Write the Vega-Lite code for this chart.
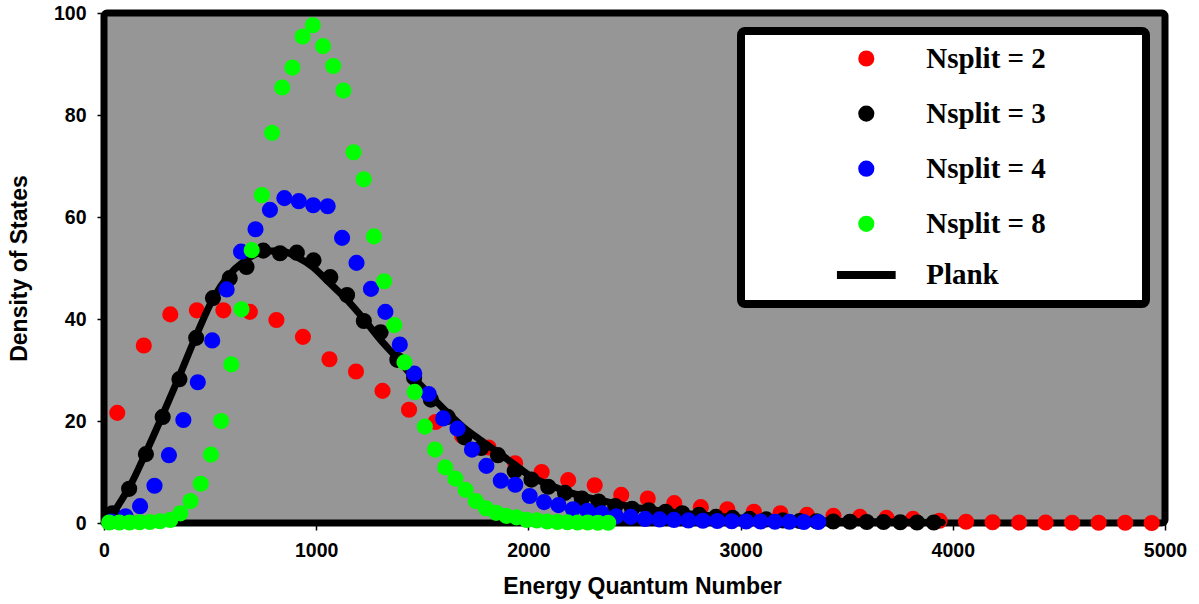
{
  "$schema": "https://vega.github.io/schema/vega-lite/v6.json",
  "width": 1061,
  "height": 510,
  "autosize": {"type": "none"},
  "padding": {"left": 104, "top": 13, "right": 34, "bottom": 81},
  "background": "white",
  "config": {
    "view": {"fill": "#969696", "stroke": "black", "strokeWidth": 7, "cornerRadius": 3},
    "axis": {
      "domain": false,
      "grid": false,
      "ticks": true,
      "tickColor": "black",
      "tickSize": 7,
      "tickWidth": 1.5,
      "labelFont": "Liberation Sans",
      "labelFontWeight": "bold",
      "labelFontSize": 19.5,
      "labelColor": "black",
      "labelPadding": 11,
      "labelFlush": false,
      "labelOverlap": false,
      "titleFont": "Liberation Sans",
      "titleFontSize": 23,
      "titleFontWeight": "bold",
      "titleColor": "black"
    },
    "legend": {
      "orient": "none",
      "legendX": 637,
      "legendY": 18,
      "padding": 13,
      "fillColor": "white",
      "strokeColor": "black",
      "strokeWidth": 8,
      "cornerRadius": 4,
      "labelFont": "Liberation Serif",
      "labelFontWeight": "bold",
      "labelFontSize": 29,
      "labelColor": "black",
      "labelLimit": 1000,
      "symbolSize": 66.5,
      "symbolStrokeWidth": 8,
      "symbolOffset": 97.8,
      "labelOffset": 45.4,
      "rowPadding": 14.1
    }
  },
  "datasets": {
    "pts": [
      {"series": "Nsplit = 2", "E": 62.5, "D": 21.6},
      {"series": "Nsplit = 2", "E": 187.5, "D": 34.8},
      {"series": "Nsplit = 2", "E": 312.5, "D": 40.9},
      {"series": "Nsplit = 2", "E": 437.5, "D": 41.7},
      {"series": "Nsplit = 2", "E": 562.5, "D": 41.7},
      {"series": "Nsplit = 2", "E": 687.5, "D": 41.4},
      {"series": "Nsplit = 2", "E": 812.5, "D": 39.8},
      {"series": "Nsplit = 2", "E": 937.5, "D": 36.5},
      {"series": "Nsplit = 2", "E": 1062.5, "D": 32.1},
      {"series": "Nsplit = 2", "E": 1187.5, "D": 29.7},
      {"series": "Nsplit = 2", "E": 1312.5, "D": 25.9},
      {"series": "Nsplit = 2", "E": 1437.5, "D": 22.2},
      {"series": "Nsplit = 2", "E": 1562.5, "D": 19.8},
      {"series": "Nsplit = 2", "E": 1687.5, "D": 17.1},
      {"series": "Nsplit = 2", "E": 1812.5, "D": 14.8},
      {"series": "Nsplit = 2", "E": 1937.5, "D": 11.7},
      {"series": "Nsplit = 2", "E": 2062.5, "D": 10.0},
      {"series": "Nsplit = 2", "E": 2187.5, "D": 8.4},
      {"series": "Nsplit = 2", "E": 2312.5, "D": 7.4},
      {"series": "Nsplit = 2", "E": 2437.5, "D": 5.5},
      {"series": "Nsplit = 2", "E": 2562.5, "D": 4.8},
      {"series": "Nsplit = 2", "E": 2687.5, "D": 3.9},
      {"series": "Nsplit = 2", "E": 2812.5, "D": 3.1},
      {"series": "Nsplit = 2", "E": 2937.5, "D": 2.7},
      {"series": "Nsplit = 2", "E": 3062.5, "D": 2.2},
      {"series": "Nsplit = 2", "E": 3187.5, "D": 1.9},
      {"series": "Nsplit = 2", "E": 3312.5, "D": 1.6},
      {"series": "Nsplit = 2", "E": 3437.5, "D": 1.4},
      {"series": "Nsplit = 2", "E": 3562.5, "D": 1.2},
      {"series": "Nsplit = 2", "E": 3687.5, "D": 1.0},
      {"series": "Nsplit = 2", "E": 3812.5, "D": 0.8},
      {"series": "Nsplit = 2", "E": 3937.5, "D": 0.45},
      {"series": "Nsplit = 2", "E": 4062.5, "D": 0.25},
      {"series": "Nsplit = 2", "E": 4187.5, "D": 0.15},
      {"series": "Nsplit = 2", "E": 4312.5, "D": 0.1},
      {"series": "Nsplit = 2", "E": 4437.5, "D": 0.1},
      {"series": "Nsplit = 2", "E": 4562.5, "D": 0.05},
      {"series": "Nsplit = 2", "E": 4687.5, "D": 0.05},
      {"series": "Nsplit = 2", "E": 4812.5, "D": 0.05},
      {"series": "Nsplit = 2", "E": 4937.5, "D": 0.0},

      {"series": "Nsplit = 3", "E": 39.5, "D": 1.9},
      {"series": "Nsplit = 3", "E": 118.5, "D": 6.7},
      {"series": "Nsplit = 3", "E": 197.5, "D": 13.5},
      {"series": "Nsplit = 3", "E": 276.5, "D": 20.8},
      {"series": "Nsplit = 3", "E": 355.5, "D": 28.2},
      {"series": "Nsplit = 3", "E": 434.5, "D": 36.3},
      {"series": "Nsplit = 3", "E": 513.5, "D": 44.1},
      {"series": "Nsplit = 3", "E": 592.5, "D": 48.0},
      {"series": "Nsplit = 3", "E": 671.5, "D": 50.2},
      {"series": "Nsplit = 3", "E": 750.5, "D": 53.4},
      {"series": "Nsplit = 3", "E": 829.5, "D": 52.9},
      {"series": "Nsplit = 3", "E": 908.5, "D": 53.0},
      {"series": "Nsplit = 3", "E": 987.5, "D": 51.5},
      {"series": "Nsplit = 3", "E": 1066.5, "D": 48.2},
      {"series": "Nsplit = 3", "E": 1145.5, "D": 44.7},
      {"series": "Nsplit = 3", "E": 1224.5, "D": 39.6},
      {"series": "Nsplit = 3", "E": 1303.5, "D": 37.4},
      {"series": "Nsplit = 3", "E": 1382.5, "D": 32.0},
      {"series": "Nsplit = 3", "E": 1461.5, "D": 28.5},
      {"series": "Nsplit = 3", "E": 1540.5, "D": 24.2},
      {"series": "Nsplit = 3", "E": 1619.5, "D": 20.8},
      {"series": "Nsplit = 3", "E": 1698.5, "D": 16.8},
      {"series": "Nsplit = 3", "E": 1777.5, "D": 14.7},
      {"series": "Nsplit = 3", "E": 1856.5, "D": 13.3},
      {"series": "Nsplit = 3", "E": 1935.5, "D": 10.2},
      {"series": "Nsplit = 3", "E": 2014.5, "D": 8.5},
      {"series": "Nsplit = 3", "E": 2093.5, "D": 7.1},
      {"series": "Nsplit = 3", "E": 2172.5, "D": 5.9},
      {"series": "Nsplit = 3", "E": 2251.5, "D": 4.8},
      {"series": "Nsplit = 3", "E": 2330.5, "D": 4.2},
      {"series": "Nsplit = 3", "E": 2409.5, "D": 3.3},
      {"series": "Nsplit = 3", "E": 2488.5, "D": 2.8},
      {"series": "Nsplit = 3", "E": 2567.5, "D": 2.5},
      {"series": "Nsplit = 3", "E": 2646.5, "D": 2.2},
      {"series": "Nsplit = 3", "E": 2725.5, "D": 1.9},
      {"series": "Nsplit = 3", "E": 2804.5, "D": 1.6},
      {"series": "Nsplit = 3", "E": 2883.5, "D": 1.2},
      {"series": "Nsplit = 3", "E": 2962.5, "D": 1.0},
      {"series": "Nsplit = 3", "E": 3041.5, "D": 0.8},
      {"series": "Nsplit = 3", "E": 3120.5, "D": 0.7},
      {"series": "Nsplit = 3", "E": 3199.5, "D": 0.5},
      {"series": "Nsplit = 3", "E": 3278.5, "D": 0.4},
      {"series": "Nsplit = 3", "E": 3357.5, "D": 0.35},
      {"series": "Nsplit = 3", "E": 3436.5, "D": 0.3},
      {"series": "Nsplit = 3", "E": 3515.5, "D": 0.25},
      {"series": "Nsplit = 3", "E": 3594.5, "D": 0.2},
      {"series": "Nsplit = 3", "E": 3673.5, "D": 0.2},
      {"series": "Nsplit = 3", "E": 3752.5, "D": 0.15},
      {"series": "Nsplit = 3", "E": 3831.5, "D": 0.1},
      {"series": "Nsplit = 3", "E": 3910.5, "D": 0.1},

      {"series": "Nsplit = 4", "E": 34, "D": 0.3},
      {"series": "Nsplit = 4", "E": 102, "D": 1.3},
      {"series": "Nsplit = 4", "E": 170, "D": 3.3},
      {"series": "Nsplit = 4", "E": 238, "D": 7.3},
      {"series": "Nsplit = 4", "E": 306, "D": 13.3},
      {"series": "Nsplit = 4", "E": 374, "D": 20.2},
      {"series": "Nsplit = 4", "E": 442, "D": 27.6},
      {"series": "Nsplit = 4", "E": 510, "D": 35.8},
      {"series": "Nsplit = 4", "E": 578, "D": 45.8},
      {"series": "Nsplit = 4", "E": 646, "D": 53.2},
      {"series": "Nsplit = 4", "E": 714, "D": 57.6},
      {"series": "Nsplit = 4", "E": 782, "D": 61.4},
      {"series": "Nsplit = 4", "E": 850, "D": 63.7},
      {"series": "Nsplit = 4", "E": 918, "D": 63.1},
      {"series": "Nsplit = 4", "E": 986, "D": 62.3},
      {"series": "Nsplit = 4", "E": 1054, "D": 62.1},
      {"series": "Nsplit = 4", "E": 1122, "D": 55.9},
      {"series": "Nsplit = 4", "E": 1190, "D": 51.0},
      {"series": "Nsplit = 4", "E": 1258, "D": 45.9},
      {"series": "Nsplit = 4", "E": 1326, "D": 41.4},
      {"series": "Nsplit = 4", "E": 1394, "D": 35.0},
      {"series": "Nsplit = 4", "E": 1462, "D": 29.3},
      {"series": "Nsplit = 4", "E": 1530, "D": 25.3},
      {"series": "Nsplit = 4", "E": 1598, "D": 20.5},
      {"series": "Nsplit = 4", "E": 1666, "D": 18.5},
      {"series": "Nsplit = 4", "E": 1734, "D": 14.4},
      {"series": "Nsplit = 4", "E": 1802, "D": 11.2},
      {"series": "Nsplit = 4", "E": 1870, "D": 8.3},
      {"series": "Nsplit = 4", "E": 1938, "D": 7.5},
      {"series": "Nsplit = 4", "E": 2006, "D": 5.3},
      {"series": "Nsplit = 4", "E": 2074, "D": 4.1},
      {"series": "Nsplit = 4", "E": 2142, "D": 3.5},
      {"series": "Nsplit = 4", "E": 2210, "D": 2.7},
      {"series": "Nsplit = 4", "E": 2278, "D": 2.4},
      {"series": "Nsplit = 4", "E": 2346, "D": 1.9},
      {"series": "Nsplit = 4", "E": 2414, "D": 1.3},
      {"series": "Nsplit = 4", "E": 2482, "D": 1.2},
      {"series": "Nsplit = 4", "E": 2550, "D": 0.8},
      {"series": "Nsplit = 4", "E": 2618, "D": 0.7},
      {"series": "Nsplit = 4", "E": 2686, "D": 0.6},
      {"series": "Nsplit = 4", "E": 2754, "D": 0.5},
      {"series": "Nsplit = 4", "E": 2822, "D": 0.45},
      {"series": "Nsplit = 4", "E": 2890, "D": 0.4},
      {"series": "Nsplit = 4", "E": 2958, "D": 0.35},
      {"series": "Nsplit = 4", "E": 3026, "D": 0.3},
      {"series": "Nsplit = 4", "E": 3094, "D": 0.3},
      {"series": "Nsplit = 4", "E": 3162, "D": 0.25},
      {"series": "Nsplit = 4", "E": 3230, "D": 0.25},
      {"series": "Nsplit = 4", "E": 3298, "D": 0.2},
      {"series": "Nsplit = 4", "E": 3366, "D": 0.2},

      {"series": "Nsplit = 8", "E": 24, "D": 0.1},
      {"series": "Nsplit = 8", "E": 72, "D": 0.1},
      {"series": "Nsplit = 8", "E": 120, "D": 0.1},
      {"series": "Nsplit = 8", "E": 168, "D": 0.15},
      {"series": "Nsplit = 8", "E": 216, "D": 0.2},
      {"series": "Nsplit = 8", "E": 264, "D": 0.35},
      {"series": "Nsplit = 8", "E": 312, "D": 0.6},
      {"series": "Nsplit = 8", "E": 360, "D": 1.9},
      {"series": "Nsplit = 8", "E": 408, "D": 4.3},
      {"series": "Nsplit = 8", "E": 456, "D": 7.7},
      {"series": "Nsplit = 8", "E": 504, "D": 13.4},
      {"series": "Nsplit = 8", "E": 552, "D": 20.0},
      {"series": "Nsplit = 8", "E": 600, "D": 31.1},
      {"series": "Nsplit = 8", "E": 648, "D": 41.9},
      {"series": "Nsplit = 8", "E": 696, "D": 53.5},
      {"series": "Nsplit = 8", "E": 744, "D": 64.3},
      {"series": "Nsplit = 8", "E": 792, "D": 76.5},
      {"series": "Nsplit = 8", "E": 840, "D": 85.4},
      {"series": "Nsplit = 8", "E": 888, "D": 89.3},
      {"series": "Nsplit = 8", "E": 936, "D": 95.4},
      {"series": "Nsplit = 8", "E": 984, "D": 97.6},
      {"series": "Nsplit = 8", "E": 1032, "D": 93.5},
      {"series": "Nsplit = 8", "E": 1080, "D": 89.6},
      {"series": "Nsplit = 8", "E": 1128, "D": 84.8},
      {"series": "Nsplit = 8", "E": 1176, "D": 72.7},
      {"series": "Nsplit = 8", "E": 1224, "D": 67.4},
      {"series": "Nsplit = 8", "E": 1272, "D": 56.2},
      {"series": "Nsplit = 8", "E": 1320, "D": 47.4},
      {"series": "Nsplit = 8", "E": 1368, "D": 38.8},
      {"series": "Nsplit = 8", "E": 1416, "D": 31.5},
      {"series": "Nsplit = 8", "E": 1464, "D": 25.7},
      {"series": "Nsplit = 8", "E": 1512, "D": 18.9},
      {"series": "Nsplit = 8", "E": 1560, "D": 14.4},
      {"series": "Nsplit = 8", "E": 1608, "D": 10.9},
      {"series": "Nsplit = 8", "E": 1656, "D": 8.7},
      {"series": "Nsplit = 8", "E": 1704, "D": 6.5},
      {"series": "Nsplit = 8", "E": 1752, "D": 4.3},
      {"series": "Nsplit = 8", "E": 1800, "D": 2.9},
      {"series": "Nsplit = 8", "E": 1848, "D": 2.0},
      {"series": "Nsplit = 8", "E": 1896, "D": 1.4},
      {"series": "Nsplit = 8", "E": 1944, "D": 1.1},
      {"series": "Nsplit = 8", "E": 1992, "D": 0.6},
      {"series": "Nsplit = 8", "E": 2040, "D": 0.5},
      {"series": "Nsplit = 8", "E": 2088, "D": 0.3},
      {"series": "Nsplit = 8", "E": 2136, "D": 0.2},
      {"series": "Nsplit = 8", "E": 2184, "D": 0.15},
      {"series": "Nsplit = 8", "E": 2232, "D": 0.1},
      {"series": "Nsplit = 8", "E": 2280, "D": 0.1},
      {"series": "Nsplit = 8", "E": 2328, "D": 0.05},
      {"series": "Nsplit = 8", "E": 2376, "D": 0.05}
    ],
    "plank": [
      {"E": 0, "D": 0},
      {"E": 36, "D": 1.5},
      {"E": 75, "D": 4.0},
      {"E": 123, "D": 7.3},
      {"E": 193, "D": 13.4},
      {"E": 264, "D": 20.0},
      {"E": 349, "D": 28.2},
      {"E": 434, "D": 36.7},
      {"E": 514, "D": 44.0},
      {"E": 589, "D": 48.6},
      {"E": 660, "D": 51.3},
      {"E": 748, "D": 53.2},
      {"E": 829, "D": 53.4},
      {"E": 908, "D": 52.2},
      {"E": 984, "D": 50.2},
      {"E": 1062, "D": 47.1},
      {"E": 1144, "D": 43.8},
      {"E": 1222, "D": 40.1},
      {"E": 1301, "D": 36.0},
      {"E": 1371, "D": 32.8},
      {"E": 1450, "D": 28.9},
      {"E": 1528, "D": 25.5},
      {"E": 1615, "D": 21.8},
      {"E": 1693, "D": 18.8},
      {"E": 1780, "D": 16.1},
      {"E": 1858, "D": 13.8},
      {"E": 1937, "D": 11.4},
      {"E": 2016, "D": 9.0},
      {"E": 2086, "D": 7.7},
      {"E": 2200, "D": 5.9},
      {"E": 2300, "D": 4.8},
      {"E": 2400, "D": 3.9},
      {"E": 2500, "D": 3.1},
      {"E": 2600, "D": 2.5},
      {"E": 2700, "D": 2.0},
      {"E": 2800, "D": 1.6},
      {"E": 2900, "D": 1.3},
      {"E": 3000, "D": 1.0},
      {"E": 3200, "D": 0.6},
      {"E": 3400, "D": 0.4},
      {"E": 3600, "D": 0.25},
      {"E": 3800, "D": 0.15},
      {"E": 3950, "D": 0.1}
    ]
  },
  "encoding": {
    "x": {
      "field": "E",
      "type": "quantitative",
      "scale": {"domain": [0, 5000], "nice": false, "zero": true},
      "axis": {
        "values": [0, 1000, 2000, 3000, 4000, 5000],
        "format": "d",
        "title": "Energy Quantum Number",
        "titlePadding": 16,
        "titleX": 538
      }
    },
    "y": {
      "field": "D",
      "type": "quantitative",
      "scale": {"domain": [0, 100], "nice": false, "zero": true},
      "axis": {
        "values": [0, 20, 40, 60, 80, 100],
        "format": "d",
        "title": "Density of States",
        "titlePadding": 22
      }
    }
  },
  "layer": [
    {
      "data": {"name": "pts"},
      "transform": [{"filter": {"field": "series", "equal": "Nsplit = 2"}}],
      "mark": {"type": "point", "filled": true, "size": 66.5, "strokeWidth": 8, "opacity": 1, "clip": false},
      "encoding": {
        "color": {
          "field": "series", "type": "nominal",
          "scale": {"domain": ["Nsplit = 2", "Nsplit = 3", "Nsplit = 4", "Nsplit = 8", "Plank"], "range": ["#ff0000", "#000000", "#0000ff", "#00ff00", "#000000"]},
          "legend": {"title": null, "labelExpr": "datum.label + '\u00a0\u00a0\u00a0\u00a0\u00a0\u00a0\u00a0\u00a0\u00a0\u00a0\u00a0\u00a0\u200b'"}
        },
        "stroke": {
          "field": "series", "type": "nominal",
          "scale": {"domain": ["Nsplit = 2", "Nsplit = 3", "Nsplit = 4", "Nsplit = 8", "Plank"], "range": ["#ff0000", "#000000", "#0000ff", "#00ff00", "#000000"]},
          "legend": {"title": null, "labelExpr": "datum.label + '\u00a0\u00a0\u00a0\u00a0\u00a0\u00a0\u00a0\u00a0\u00a0\u00a0\u00a0\u00a0\u200b'"}
        },
        "shape": {
          "field": "series", "type": "nominal",
          "scale": {"domain": ["Nsplit = 2", "Nsplit = 3", "Nsplit = 4", "Nsplit = 8", "Plank"], "range": ["circle", "circle", "circle", "circle", "M-7.2,0L7.2,0"]},
          "legend": {"title": null, "labelExpr": "datum.label + '\u00a0\u00a0\u00a0\u00a0\u00a0\u00a0\u00a0\u00a0\u00a0\u00a0\u00a0\u00a0\u200b'"}
        }
      }
    },
    {
      "data": {"name": "plank"},
      "mark": {"type": "line", "color": "#000000", "strokeWidth": 7, "strokeCap": "round", "strokeJoin": "round", "interpolate": "monotone", "clip": false},
      "encoding": {}
    },
    {
      "data": {"name": "pts"},
      "transform": [{"filter": {"field": "series", "oneOf": ["Nsplit = 3", "Nsplit = 4", "Nsplit = 8"]}}],
      "mark": {"type": "point", "filled": true, "size": 66.5, "strokeWidth": 8, "opacity": 1, "clip": false},
      "encoding": {
        "color": {
          "field": "series", "type": "nominal",
          "scale": {"domain": ["Nsplit = 2", "Nsplit = 3", "Nsplit = 4", "Nsplit = 8", "Plank"], "range": ["#ff0000", "#000000", "#0000ff", "#00ff00", "#000000"]},
          "legend": {"title": null, "labelExpr": "datum.label + '\u00a0\u00a0\u00a0\u00a0\u00a0\u00a0\u00a0\u00a0\u00a0\u00a0\u00a0\u00a0\u200b'"}
        },
        "stroke": {
          "field": "series", "type": "nominal",
          "scale": {"domain": ["Nsplit = 2", "Nsplit = 3", "Nsplit = 4", "Nsplit = 8", "Plank"], "range": ["#ff0000", "#000000", "#0000ff", "#00ff00", "#000000"]},
          "legend": {"title": null, "labelExpr": "datum.label + '\u00a0\u00a0\u00a0\u00a0\u00a0\u00a0\u00a0\u00a0\u00a0\u00a0\u00a0\u00a0\u200b'"}
        },
        "shape": {
          "field": "series", "type": "nominal",
          "scale": {"domain": ["Nsplit = 2", "Nsplit = 3", "Nsplit = 4", "Nsplit = 8", "Plank"], "range": ["circle", "circle", "circle", "circle", "M-7.2,0L7.2,0"]},
          "legend": {"title": null, "labelExpr": "datum.label + '\u00a0\u00a0\u00a0\u00a0\u00a0\u00a0\u00a0\u00a0\u00a0\u00a0\u00a0\u00a0\u200b'"}
        }
      }
    }
  ]
}
